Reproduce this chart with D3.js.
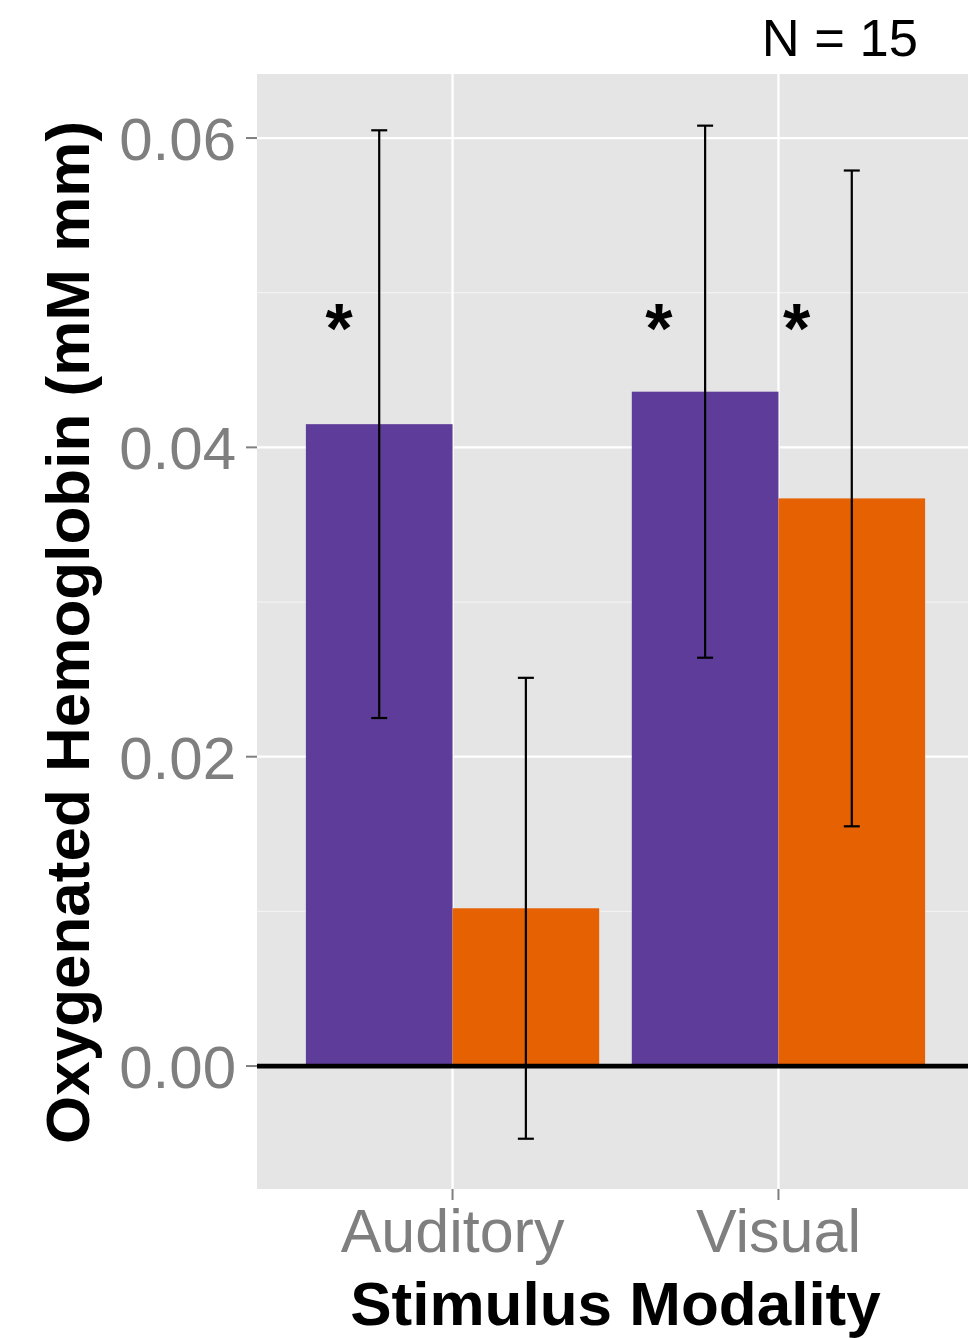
<!DOCTYPE html>
<html>
<head>
<meta charset="utf-8">
<script src="https://cdn.jsdelivr.net/npm/d3@7"></script>
<style>
  html, body { margin: 0; padding: 0; background: #ffffff; }
  svg { display: block; }
  text { font-family: "Liberation Sans", Arial, Helvetica, sans-serif; }
</style>
</head>
<body>
<svg id="chart" width="968" height="1338"></svg>
<script>
// Stimulus modalities on the x axis
const modalities = ["Auditory", "Visual"];
// Two conditions per modality (dodged bars)
const conditions = ["A", "B"];
const conditionColors = ["#5e3c99", "#e66101"];
// Mean oxygenated hemoglobin per modality, one array per condition
const meanA = [0.0415, 0.0436];
const meanB = [0.0102, 0.0367];
// Standard errors for the error bars
const seA = [0.0190, 0.0172];
const seB = [0.0149, 0.0212];
// Significance markers: modality, horizontal offset in category units
const sigModality = ["Auditory", "Visual", "Visual"];
const sigOffset = [-0.348, -0.367, 0.056];
const sigLevel = 0.0485;
// Y axis ticks
const yTicks = [0.00, 0.02, 0.04, 0.06];
const yMinorTicks = [0.01, 0.03, 0.05];
const sampleLabel = "N = 15";

const svg = d3.select("#chart");

const panel = { left: 257, right: 974, top: 74, bottom: 1189 };

const x = d3.scaleLinear()
  .domain([0.4, modalities.length + 0.6])
  .range([panel.left, panel.right]);
const y = d3.scaleLinear()
  .domain([-0.00795, 0.06414])
  .range([panel.bottom, panel.top]);

const xPos = m => x(modalities.indexOf(m) + 1);
const dodge = 0.9;
const barW = dodge / conditions.length;

const rows = [];
modalities.forEach((m, i) => {
  [meanA, meanB].forEach((arr, c) => {
    const se = [seA, seB][c][i];
    rows.push({ modality: m, cond: c, mean: arr[i], lo: arr[i] - se, hi: arr[i] + se });
  });
});

// Panel background
svg.append("rect")
  .attr("x", panel.left).attr("y", panel.top)
  .attr("width", panel.right - panel.left)
  .attr("height", panel.bottom - panel.top)
  .attr("fill", "#e5e5e5");

// Minor grid
svg.append("g").selectAll("line").data(yMinorTicks).join("line")
  .attr("x1", panel.left).attr("x2", panel.right)
  .attr("y1", d => y(d)).attr("y2", d => y(d))
  .attr("stroke", "#f2f2f2").attr("stroke-width", 1.2);

// Major grid
svg.append("g").selectAll("line").data(yTicks).join("line")
  .attr("x1", panel.left).attr("x2", panel.right)
  .attr("y1", d => y(d)).attr("y2", d => y(d))
  .attr("stroke", "#ffffff").attr("stroke-width", 2.3);
svg.append("g").selectAll("line").data(modalities).join("line")
  .attr("x1", d => xPos(d)).attr("x2", d => xPos(d))
  .attr("y1", panel.top).attr("y2", panel.bottom)
  .attr("stroke", "#ffffff").attr("stroke-width", 2.3);

const bx = d => x(modalities.indexOf(d.modality) + 1 - dodge / 2 + d.cond * barW);

// Bars
svg.append("g").selectAll("rect").data(rows).join("rect")
  .attr("x", d => bx(d))
  .attr("width", d => x(barW) - x(0))
  .attr("y", d => y(Math.max(0, d.mean)))
  .attr("height", d => Math.abs(y(d.mean) - y(0)))
  .attr("fill", d => conditionColors[d.cond]);

// Zero reference line
svg.append("line")
  .attr("x1", panel.left).attr("x2", panel.right)
  .attr("y1", y(0)).attr("y2", y(0))
  .attr("stroke", "#000000").attr("stroke-width", 4.8);

// Error bars
const capHalf = 8;
const eb = svg.append("g").attr("stroke", "#000000").attr("stroke-width", 2.2);
rows.forEach(d => {
  const cx = bx(d) + (x(barW) - x(0)) / 2;
  eb.append("line").attr("x1", cx).attr("x2", cx).attr("y1", y(d.hi)).attr("y2", y(d.lo));
  eb.append("line").attr("x1", cx - capHalf).attr("x2", cx + capHalf).attr("y1", y(d.hi)).attr("y2", y(d.hi));
  eb.append("line").attr("x1", cx - capHalf).attr("x2", cx + capHalf).attr("y1", y(d.lo)).attr("y2", y(d.lo));
});

// Significance asterisks
svg.append("g").selectAll("text").data(sigModality).join("text")
  .attr("x", (m, i) => x(modalities.indexOf(m) + 1 + sigOffset[i]))
  .attr("y", y(sigLevel) + 37)
  .attr("text-anchor", "middle")
  .attr("font-size", 70).attr("font-weight", "bold")
  .attr("fill", "#000000")
  .text("*");

// Y axis ticks and labels
const yAxis = svg.append("g");
yAxis.selectAll("line").data(yTicks).join("line")
  .attr("x1", panel.left - 11).attr("x2", panel.left)
  .attr("y1", d => y(d)).attr("y2", d => y(d))
  .attr("stroke", "#7f7f7f").attr("stroke-width", 2);
yAxis.selectAll("text").data(yTicks).join("text")
  .attr("x", panel.left - 21)
  .attr("y", d => y(d) + 22)
  .attr("text-anchor", "end")
  .attr("font-size", 60)
  .attr("fill", "#7f7f7f")
  .text(d => d3.format(".2f")(d));

// X axis ticks and labels
const xAxis = svg.append("g");
xAxis.selectAll("line").data(modalities).join("line")
  .attr("x1", d => xPos(d)).attr("x2", d => xPos(d))
  .attr("y1", panel.bottom).attr("y2", panel.bottom + 11)
  .attr("stroke", "#7f7f7f").attr("stroke-width", 2);
xAxis.selectAll("text").data(modalities).join("text")
  .attr("x", d => xPos(d))
  .attr("y", 1252)
  .attr("text-anchor", "middle")
  .attr("font-size", 61)
  .attr("fill", "#7f7f7f")
  .text(d => d);

// Axis titles
svg.append("text")
  .attr("x", (panel.left + panel.right) / 2)
  .attr("y", 1325)
  .attr("text-anchor", "middle")
  .attr("font-size", 62).attr("font-weight", "bold")
  .attr("fill", "#000000")
  .text("Stimulus Modality");

svg.append("text")
  .attr("transform", `translate(89, ${(panel.top + panel.bottom) / 2 + 1}) rotate(-90)`)
  .attr("text-anchor", "middle")
  .attr("font-size", 62).attr("font-weight", "bold")
  .attr("fill", "#000000")
  .text("Oxygenated Hemoglobin (mM mm)");

// Sample size annotation
svg.append("text")
  .attr("x", 918).attr("y", 56)
  .attr("text-anchor", "end")
  .attr("font-size", 52.5)
  .attr("fill", "#000000")
  .text(sampleLabel);
</script>
</body>
</html>
